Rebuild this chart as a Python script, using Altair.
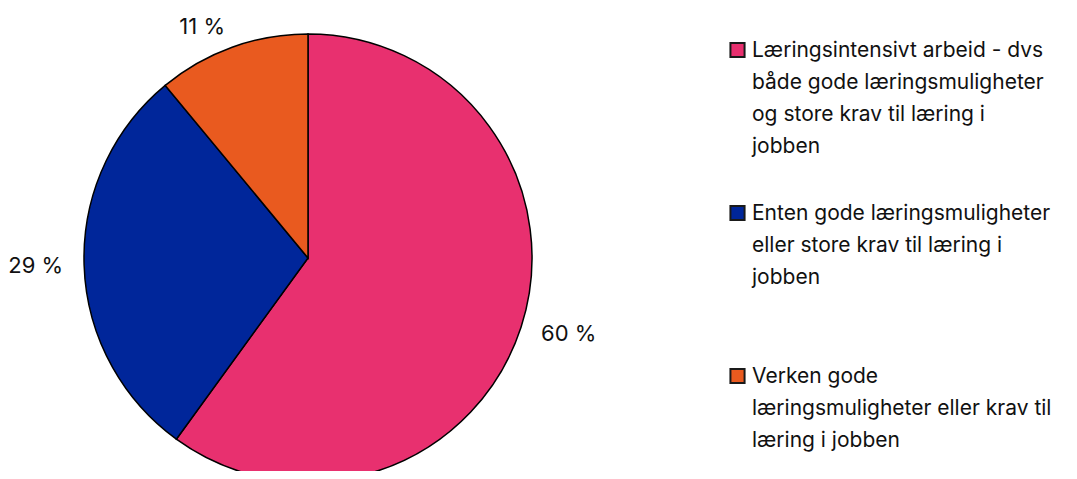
import altair as alt
import pandas as pd

categories = [
    "Læringsintensivt arbeid - dvs både gode læringsmuligheter og store krav til læring i jobben",
    "Enten gode læringsmuligheter eller store krav til læring i jobben",
    "Verken gode læringsmuligheter eller krav til læring i jobben",
]
legend_lines = [
    "Læringsintensivt arbeid - dvs\nbåde gode læringsmuligheter\nog store krav til læring i\njobben",
    "Enten gode læringsmuligheter\neller store krav til læring i\njobben",
    "Verken gode\nlæringsmuligheter eller krav til\nlæring i jobben",
]
values = [60, 29, 11]
labels = ["60 %", "29 %", "11 %"]
colors = ["#E8306F", "#00269A", "#E95A1F"]

FONT = "Inter"

df = pd.DataFrame({
    "cat": categories,
    "legend": legend_lines,
    "value": values,
    "label": labels,
    "order": [0, 1, 2],
})

theta_scale = alt.Scale(domain=[0, 100])

base = alt.Chart(df).transform_window(
    cum="sum(value)", sort=[alt.SortField("order")], frame=[None, 0]
).transform_calculate(
    start="datum.cum - datum.value",
    mid="datum.cum - datum.value / 2",
)

pie = base.mark_arc(stroke="#000000", strokeWidth=1.5, radius=224).encode(
    theta=alt.Theta("start:Q", scale=theta_scale),
    theta2="cum:Q",
    color=alt.Color("cat:N", scale=alt.Scale(domain=categories, range=colors), legend=None),
    x=alt.value(300),
    y=alt.value(250),
)

pct_right = base.transform_filter("datum.mid < 50").mark_text(
    radius=245, font=FONT, fontSize=22, color="#111111", align="left", baseline="middle"
).encode(
    theta=alt.Theta("mid:Q", scale=theta_scale),
    text="label:N",
    x=alt.value(300),
    y=alt.value(250),
)

pct_left = base.transform_filter("datum.mid >= 50").mark_text(
    radius=245, font=FONT, fontSize=22, color="#111111", align="right", baseline="middle"
).encode(
    theta=alt.Theta("mid:Q", scale=theta_scale),
    text="label:N",
    x=alt.value(300),
    y=alt.value(250),
)

yscale_sq = alt.Scale(domain=[0, 2], range=[42, 368])

sq = alt.Chart(df).mark_point(shape="square", filled=True, size=200, stroke="#1a1a1a",
                              strokeWidth=2, opacity=1).encode(
    x=alt.value(729.5),
    y=alt.Y("order:Q", scale=yscale_sq, axis=None),
    fill=alt.Fill("cat:N", scale=alt.Scale(domain=categories, range=colors), legend=None),
)

leg = alt.Chart(df).mark_text(align="left", baseline="alphabetic", dy=7, font=FONT,
                              fontSize=21, lineHeight=32, lineBreak="\n",
                              color="#111111").encode(
    x=alt.value(744),
    y=alt.Y("order:Q", scale=yscale_sq, axis=None),
    text="legend:N",
)

chart = alt.layer(pie, pct_right, pct_left, sq, leg).resolve_scale(
    color="independent", theta="shared"
).properties(
    width=1061, height=463, padding=0, autosize=alt.AutoSizeParams(type="none"),
).configure_view(stroke=None)

chart.save("out.html", embed_options={"renderer": "svg", "actions": False})
